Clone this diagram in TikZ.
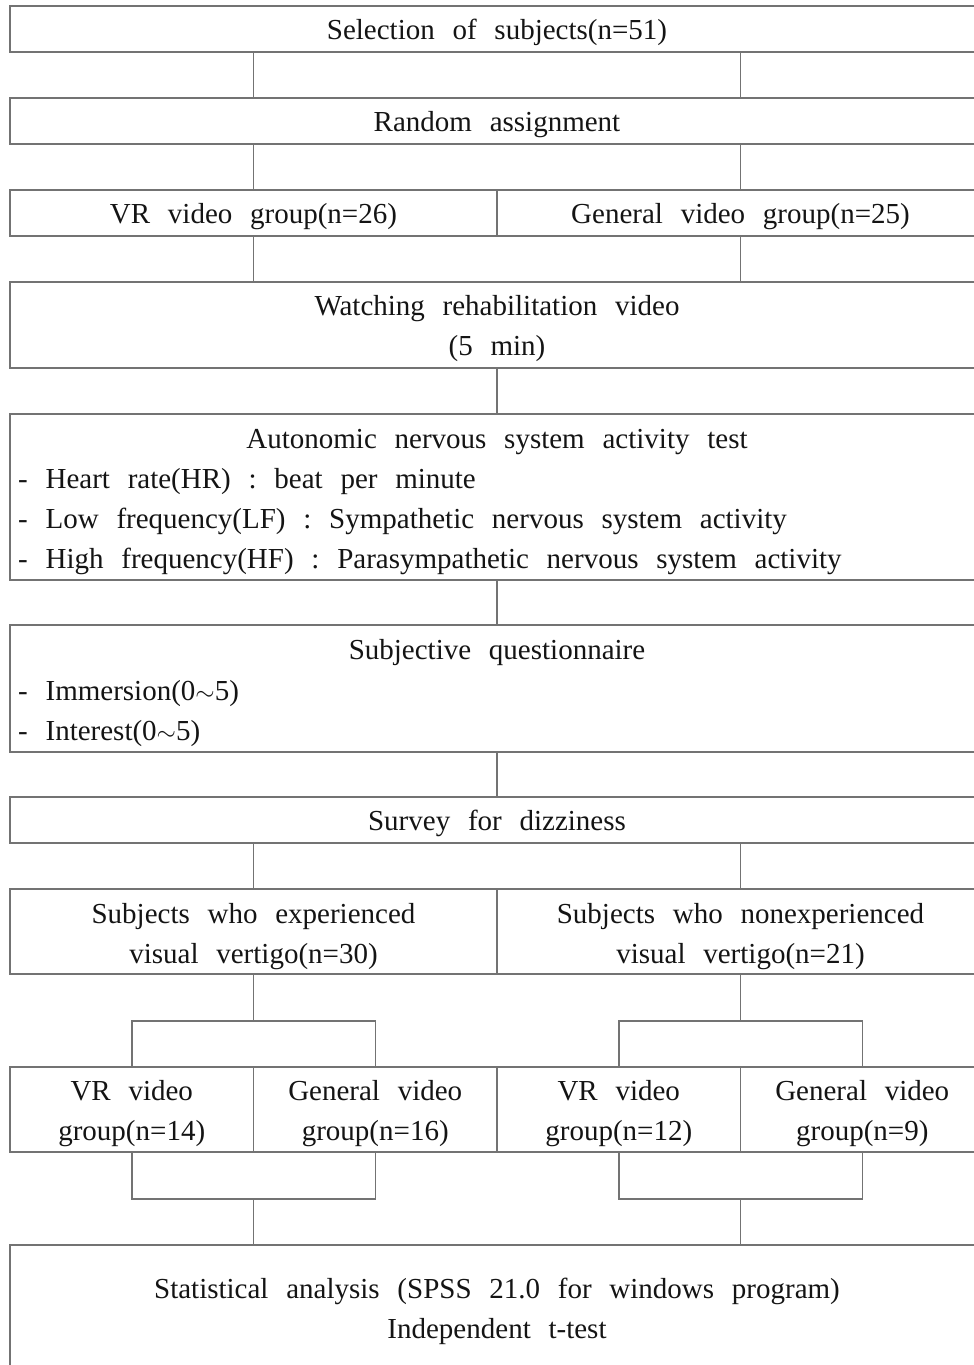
\documentclass[tikz,border=0pt]{standalone}
\usepackage{fontspec}
\setmainfont{Liberation Serif}[WordSpace=2.45]
\definecolor{linegray}{RGB}{115,115,115}
\definecolor{txtcol}{RGB}{20,20,20}
\begin{document}
\begin{tikzpicture}[x=1pt,y=-1pt,
  boxn/.style={draw=linegray, line width=1.6pt, rectangle, inner sep=0pt, outer sep=0pt, anchor=north west},
  txt/.style={font=\fontsize{29}{40}\selectfont, text=txtcol, inner sep=0pt, anchor=base},
  ltxt/.style={txt, anchor=base west},
  conn/.style={draw=linegray, line width=1.5pt}]
\useasboundingbox (0,0) rectangle (974,1365);
\clip (0,0) rectangle (974,1365);
\fill[white] (0,0) rectangle (974,1365);
% boxes
\node[boxn, minimum width=974pt, minimum height=46pt] (b1) at (10,6) {};
\node[boxn, minimum width=974pt, minimum height=46pt] (b2) at (10,98) {};
\node[boxn, minimum width=487pt, minimum height=46pt] (b3l) at (10,190) {};
\node[boxn, minimum width=487pt, minimum height=46pt] (b3r) at (497,190) {};
\node[boxn, minimum width=974pt, minimum height=86pt] (b4) at (10,282) {};
\node[boxn, minimum width=974pt, minimum height=166pt] (b5) at (10,414) {};
\node[boxn, minimum width=974pt, minimum height=127pt] (b6) at (10,625) {};
\node[boxn, minimum width=974pt, minimum height=46pt] (b7) at (10,797) {};
\node[boxn, minimum width=487pt, minimum height=85pt] (b8l) at (10,889) {};
\node[boxn, minimum width=487pt, minimum height=85pt] (b8r) at (497,889) {};
\node[boxn, minimum width=243.5pt, minimum height=85pt] (b9a) at (10,1067) {};
\node[boxn, minimum width=243.5pt, minimum height=85pt] (b9b) at (253.5,1067) {};
\node[boxn, minimum width=243.5pt, minimum height=85pt] (b9c) at (497,1067) {};
\node[boxn, minimum width=243.5pt, minimum height=85pt] (b9d) at (740.5,1067) {};
\node[boxn, minimum width=974pt, minimum height=170pt] (b10) at (10,1245) {};
% column coordinates
\coordinate (q2) at (253.5,0);
\coordinate (q4) at (497,0);
\coordinate (q6) at (740.5,0);
\coordinate (br1) at (253.5,1021);
\coordinate (br2) at (740.5,1021);
\coordinate (br3) at (253.5,1199);
\coordinate (br4) at (740.5,1199);
% connectors
\draw[conn] (b1.south -| q2) -- (b2.north -| q2);
\draw[conn] (b1.south -| q6) -- (b2.north -| q6);
\draw[conn] (b2.south -| q2) -- (b3l.north -| q2);
\draw[conn] (b2.south -| q6) -- (b3r.north -| q6);
\draw[conn] (b3l.south -| q2) -- (b4.north -| q2);
\draw[conn] (b3r.south -| q6) -- (b4.north -| q6);
\draw[conn] (b4.south -| q4) -- (b5.north -| q4);
\draw[conn] (b5.south -| q4) -- (b6.north -| q4);
\draw[conn] (b6.south -| q4) -- (b7.north -| q4);
\draw[conn] (b7.south -| q2) -- (b8l.north -| q2);
\draw[conn] (b7.south -| q6) -- (b8r.north -| q6);
\draw[conn] (b8l.south) -- (br1);
\draw[conn] (b8r.south) -- (br2);
\draw[conn] (b9a.north) |- (br1) -| (b9b.north);
\draw[conn] (b9c.north) |- (br2) -| (b9d.north);
\draw[conn] (b9a.south) |- (br3) -| (b9b.south);
\draw[conn] (b9c.south) |- (br4) -| (b9d.south);
\draw[conn] (br3) -- (b10.north -| br3);
\draw[conn] (br4) -- (b10.north -| br4);
% texts
\node[txt] (t1) at (497,39) {Selection of subjects(n=51)};
\node[txt] (t2) at (497,131) {Random assignment};
\node[txt] (t3a) at (253.5,223) {VR video group(n=26)};
\node[txt] (t3b) at (740.5,223) {General video group(n=25)};
\node[txt] (t4a) at (497,315) {Watching rehabilitation video};
\node[txt] (t4b) at (497,355) {(5 min)};
\node[txt] (t5a) at (497,448) {Autonomic nervous system activity test};
\node[ltxt] (t5b) at (18,488) {- Heart rate(HR) : beat per minute};
\node[ltxt] (t5c) at (18,528) {- Low frequency(LF) : Sympathetic nervous system activity};
\node[ltxt] (t5d) at (18,568) {- High frequency(HF) : Parasympathetic nervous system activity};
\node[txt] (t6a) at (497,659) {Subjective questionnaire};
\node[ltxt] (t6b) at (18,700) {- Immersion(0$\sim$5)};
\node[ltxt] (t6c) at (18,740) {- Interest(0$\sim$5)};
\node[txt] (t7) at (497,830) {Survey for dizziness};
\node[txt] (t8a) at (253.5,923) {Subjects who experienced};
\node[txt] (t8b) at (253.5,963) {visual vertigo(n=30)};
\node[txt] (t8c) at (740.5,923) {Subjects who nonexperienced};
\node[txt] (t8d) at (740.5,963) {visual vertigo(n=21)};
\node[txt] (t9a) at (131.75,1100) {VR video};
\node[txt] (t9b) at (131.75,1140) {group(n=14)};
\node[txt] (t9c) at (375.25,1100) {General video};
\node[txt] (t9d) at (375.25,1140) {group(n=16)};
\node[txt] (t9e) at (618.75,1100) {VR video};
\node[txt] (t9f) at (618.75,1140) {group(n=12)};
\node[txt] (t9g) at (862.25,1100) {General video};
\node[txt] (t9h) at (862.25,1140) {group(n=9)};
\node[txt] (t10a) at (497,1298) {Statistical analysis (SPSS 21.0 for windows program)};
\node[txt] (t10b) at (497,1338) {Independent t-test};
\end{tikzpicture}
\end{document}
